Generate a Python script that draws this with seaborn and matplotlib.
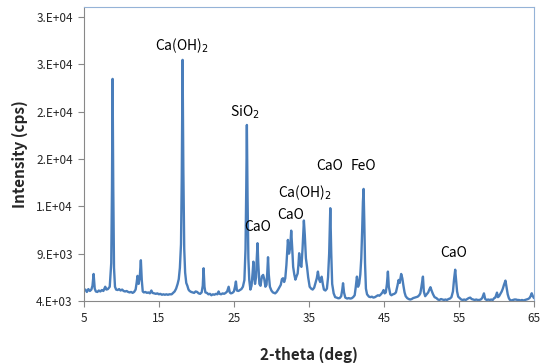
import pandas as pd
import seaborn as sns
import matplotlib.pyplot as plt

# XRD pattern (2-theta in deg, intensity in cps)
two_theta = [
    5.0, 5.2, 5.4, 5.6, 5.8, 6.0, 6.15, 6.3, 6.45, 6.6, 6.8, 7.0, 7.2, 7.4, 7.6, 7.85, 8.0, 8.2, 8.45,
    8.65, 8.75, 8.83, 8.92, 9.02, 9.15, 9.3, 9.5, 9.7, 9.9, 10.1, 10.3, 10.5, 10.7, 10.9, 11.1, 11.3,
    11.5, 11.7, 11.9, 12.05, 12.15, 12.3, 12.45, 12.6, 12.72, 12.85, 13.0, 13.2, 13.4, 13.6, 13.8,
    14.0, 14.15, 14.4, 14.6, 14.8, 15.0, 15.2, 15.4, 15.6, 15.8, 16.0, 16.2, 16.4, 16.7, 16.9, 17.1,
    17.3, 17.5, 17.65, 17.8, 17.95, 18.05, 18.16, 18.26, 18.38, 18.5, 18.65, 18.8, 18.95, 19.1, 19.3,
    19.5, 19.7, 19.9, 20.1, 20.3, 20.5, 20.7, 20.85, 20.96, 21.08, 21.2, 21.4, 21.6, 21.8, 22.0, 22.2,
    22.4, 22.6, 22.8, 22.96, 23.1, 23.3, 23.5, 23.7, 23.9, 24.1, 24.3, 24.45, 24.6, 24.8, 25.0, 25.15,
    25.27, 25.4, 25.6, 25.8, 26.0, 26.2, 26.4, 26.55, 26.65, 26.73, 26.82, 26.93, 27.05, 27.2, 27.35,
    27.5, 27.6, 27.7, 27.82, 27.95, 28.05, 28.15, 28.25, 28.4, 28.55, 28.73, 28.9, 29.05, 29.2, 29.35,
    29.45, 29.55, 29.65, 29.8, 30.0, 30.2, 30.5, 30.7, 30.9, 31.1, 31.25, 31.4, 31.55, 31.7, 31.85,
    32.0, 32.2, 32.35, 32.5, 32.64, 32.78, 32.9, 33.05, 33.2, 33.35, 33.5, 33.6, 33.7, 33.85, 34.0,
    34.15, 34.33, 34.45, 34.6, 34.75, 34.9, 35.1, 35.3, 35.5, 35.7, 35.93, 36.05, 36.2, 36.35, 36.5,
    36.7, 36.85, 37.0, 37.2, 37.4, 37.55, 37.7, 37.85, 37.98, 38.1, 38.3, 38.5, 38.7, 38.9, 39.1, 39.3,
    39.45, 39.55, 39.68, 39.85, 40.1, 40.3, 40.5, 40.7, 40.9, 41.1, 41.25, 41.4, 41.55, 41.7, 41.85,
    41.98, 42.1, 42.2, 42.29, 42.38, 42.48, 42.6, 42.75, 43.0, 43.2, 43.4, 43.6, 43.8, 44.0, 44.2,
    44.4, 44.6, 44.8, 44.95, 45.1, 45.25, 45.4, 45.53, 45.65, 45.85, 46.0, 46.2, 46.4, 46.6, 46.8,
    46.96, 47.1, 47.3, 47.45, 47.6, 47.75, 47.9, 48.1, 48.3, 48.5, 48.7, 48.9, 49.1, 49.3, 49.5, 49.7,
    49.85, 50.0, 50.2, 50.32, 50.5, 50.7, 50.9, 51.05, 51.2, 51.35, 51.55, 51.75, 52.0, 52.2, 52.4,
    52.6, 52.8, 53.0, 53.2, 53.4, 53.6, 53.8, 54.0, 54.2, 54.35, 54.5, 54.62, 54.75, 54.9, 55.1, 55.3,
    55.5, 55.7, 55.9, 56.1, 56.3, 56.5, 56.7, 56.9, 57.1, 57.3, 57.5, 57.7, 57.9, 58.1, 58.33, 58.5,
    58.7, 58.9, 59.1, 59.3, 59.5, 59.7, 59.85, 60.0, 60.07, 60.2, 60.35, 60.55, 60.7, 60.85, 61.0,
    61.2, 61.35, 61.5, 61.65, 61.8, 62.0, 62.2, 62.4, 62.6, 62.8, 63.0, 63.2, 63.4, 63.6, 63.8, 64.0,
    64.2, 64.4, 64.55, 64.7, 64.85, 65.0,
]
intensity = [
    5150, 5200, 4950, 5250, 5050, 5200, 5600, 6850, 5300, 5000, 4950, 5100, 5000, 5150, 5050, 5500, 5200, 5250, 5500,
    8000, 16000, 27470, 16000, 7500, 5500, 5200, 5150, 5250, 5100, 5200, 5050, 5000, 5050, 4950, 4900, 4950,
    4850, 4950, 5200, 6000, 6650, 5800, 6500, 8300, 6200, 5000, 4900, 4950, 4850, 4900, 4800,
    5100, 4850, 4800, 4750, 4800, 4700, 4750, 4650, 4700, 4650, 4700, 4650, 4700, 4700, 4850, 5000,
    5300, 5800, 6300, 7500, 10000, 17000, 29480, 18000, 9500, 7000, 5900, 5600, 5200, 5050, 4950,
    4900, 4850, 5000, 4950, 4800, 4750, 4900, 5600, 7450, 5500, 4900, 4850, 4700, 4750, 4600, 4700,
    4650, 4750, 4700, 5000, 4750, 4700, 4800, 4750, 4850, 5000, 5500, 4900, 4800, 4850, 5000, 5500,
    6050, 5100, 5050, 5150, 5250, 5500, 6200, 9500, 16000, 22600, 15000, 8500, 6200, 5200, 5600,
    7000, 8150, 6500, 5800, 6500, 8500, 10100, 8000, 5800, 5600, 6600, 6750, 6300, 5500, 5700,
    7000, 8620, 6800, 5500, 5100, 4900, 4800, 4950, 5200, 5500, 5700, 6300, 6400, 6000, 6400,
    7800, 10450, 9000, 9600, 11430, 9500, 7600, 6800, 6250, 6600, 6900, 7800, 9040, 7800, 7600,
    9500, 12500, 11000, 8500, 7600, 6500, 5500, 5300, 5200, 5400, 6050, 6400, 7100, 6300, 6000,
    6560, 5800, 5200, 5100, 5300, 6500, 9000, 13800, 9000, 5800, 4800, 4400, 4350, 4280, 4300, 4500,
    5200, 5870, 4900, 4350, 4250, 4300, 4250, 4280, 4400, 4600, 5500, 6570, 5500, 5800, 6800,
    8500, 11500, 14500, 15840, 12500, 8000, 5300, 4700, 4450, 4400, 4450, 4350, 4400, 4500, 4600,
    4550, 4700, 4900, 5150, 4800, 4900, 5800, 7100, 5500, 4700, 4600, 4700, 4750, 4900, 5600,
    6220, 5900, 6850, 6400, 5600, 4900, 4500, 4300, 4200, 4150, 4200, 4300, 4350, 4400, 4450, 4600,
    4800, 5500, 6570, 5000, 4500, 4700, 4900, 5200, 5450, 5100, 4700, 4400, 4300, 4150, 4100,
    4200, 4150, 4100, 4150, 4100, 4200, 4250, 4400, 5000, 6300, 7300, 6200, 5000, 4450, 4300, 4150,
    4100, 4150, 4100, 4200, 4300, 4350, 4200, 4150, 4100, 4150, 4100, 4100, 4150, 4300, 4800, 4200,
    4100, 4150, 4100, 4150, 4100, 4300, 4350, 4700, 4880, 4400, 4500, 4800, 5000, 5300, 5700,
    6150, 5400, 4700, 4300, 4100, 4050, 4100, 4150, 4150, 4100, 4100, 4050, 4100, 4050, 4100, 4150,
    4200, 4300, 4500, 4810, 4500, 4300,
]

# phase labels and where they sit (2-theta, intensity)
phase_labels = ["Ca(OH)$_2$", "SiO$_2$", "CaO", "CaO", "Ca(OH)$_2$", "CaO", "FeO", "CaO"]
label_x = [18.03, 26.53, 28.13, 32.6, 34.47, 37.8, 42.33, 54.33]
label_y = [30950, 23980, 11850, 13090, 15450, 18270, 18270, 9100]

y_ticks = [4000, 9000, 14000, 19000, 24000, 29000, 34000]
y_tick_labels = ["4.E+03", "9.E+03", "1.E+04", "2.E+04", "2.E+04", "3.E+04", "3.E+04"]
x_ticks = [5, 15, 25, 35, 45, 55, 65]

df = pd.DataFrame({"two_theta": two_theta, "intensity": intensity})

sns.set_style("white")
plt.rcParams["font.family"] = ["Noto Sans CJK KR", "DejaVu Sans"]

fig = plt.figure(figsize=(5.41, 3.63), dpi=100)
ax = fig.add_axes([0.155, 0.171, 0.832, 0.81])

sns.lineplot(data=df, x="two_theta", y="intensity", ax=ax, color="#4a7ebb",
             linewidth=1.7, estimator=None, sort=False)

for txt, lx, ly in zip(phase_labels, label_x, label_y):
    ax.text(lx, ly, txt, ha="center", va="center", fontsize=10, color="black")

ax.set_xlim(5, 65)
ax.set_ylim(4000, 35080)
ax.set_xticks(x_ticks)
ax.set_xticklabels([str(t) for t in x_ticks])
ax.set_yticks(y_ticks)
ax.set_yticklabels(y_tick_labels)
ax.tick_params(axis="both", labelsize=8.5, length=4, width=0.8, color="#888888",
               direction="out", pad=4, bottom=True, left=True)

for side in ["left", "bottom"]:
    ax.spines[side].set_color("#888888")
    ax.spines[side].set_linewidth(0.8)
for side in ["top", "right"]:
    ax.spines[side].set_color("#95b3d7")
    ax.spines[side].set_linewidth(0.8)

ax.set_xlabel("2-theta (deg)", fontsize=11, fontweight="bold", labelpad=16)
ax.set_ylabel("Intensity (cps)", fontsize=11, fontweight="bold", labelpad=6)

fig.savefig("out.png", dpi=100)
